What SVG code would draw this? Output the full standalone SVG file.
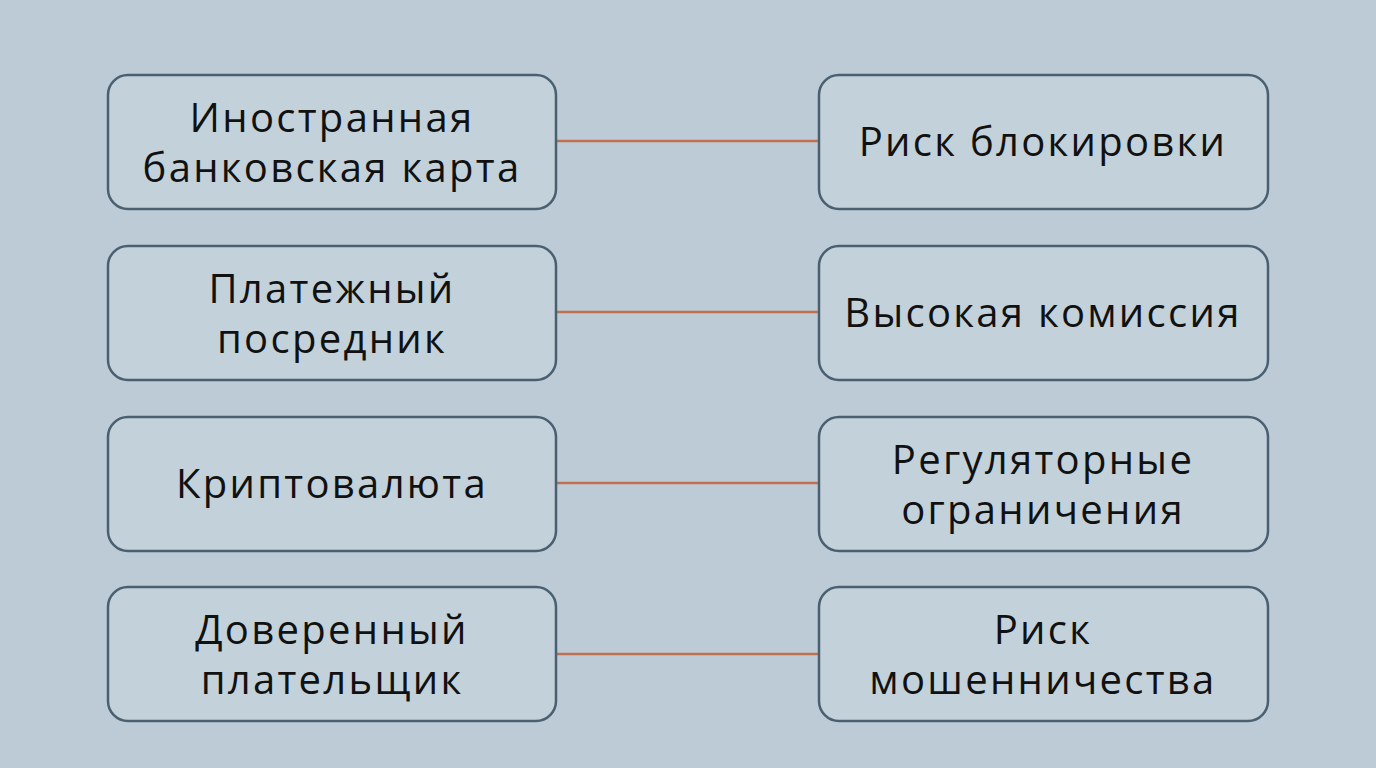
<svg xmlns="http://www.w3.org/2000/svg" width="1376" height="768" viewBox="0 0 1376 768">
<style>
.b{fill:#c3d1db;stroke:#4a5f70;stroke-width:2.5}
.t{font-family:"Open Sans","DejaVu Sans",sans-serif;font-size:40px;font-weight:500;letter-spacing:2.3px;fill:#111;text-anchor:middle}
.c{stroke:#c07050;stroke-width:2.5}
</style>
<rect width="1376" height="768" fill="#bccbd5"/>
<g id="connectors">
<line class="c" x1="557" y1="141" x2="818" y2="141"/>
<line class="c" x1="557" y1="312" x2="818" y2="312"/>
<line class="c" x1="557" y1="483" x2="818" y2="483"/>
<line class="c" x1="557" y1="654" x2="818" y2="654"/>
</g>
<g id="n1"><rect class="b" x="108" y="75" width="448" height="134" rx="20"/><text class="t" x="332" y="132">Иностранная</text><text class="t" x="332" y="182">банковская карта</text></g>
<g id="n2"><rect class="b" x="108" y="246" width="448" height="134" rx="20"/><text class="t" x="332" y="303">Платежный</text><text class="t" x="332" y="353">посредник</text></g>
<g id="n3"><rect class="b" x="108" y="417" width="448" height="134" rx="20"/><text class="t" x="332" y="498">Криптовалюта</text></g>
<g id="n4"><rect class="b" x="108" y="587" width="448" height="134" rx="20"/><text class="t" x="332" y="644">Доверенный</text><text class="t" x="332" y="694">плательщик</text></g>
<g id="n5"><rect class="b" x="819" y="75" width="449" height="134" rx="20"/><text class="t" x="1043" y="156">Риск блокировки</text></g>
<g id="n6"><rect class="b" x="819" y="246" width="449" height="134" rx="20"/><text class="t" x="1043" y="327">Высокая комиссия</text></g>
<g id="n7"><rect class="b" x="819" y="417" width="449" height="134" rx="20"/><text class="t" x="1043" y="474">Регуляторные</text><text class="t" x="1043" y="524">ограничения</text></g>
<g id="n8"><rect class="b" x="819" y="587" width="449" height="134" rx="20"/><text class="t" x="1043" y="644">Риск</text><text class="t" x="1043" y="694">мошенничества</text></g>
</svg>
